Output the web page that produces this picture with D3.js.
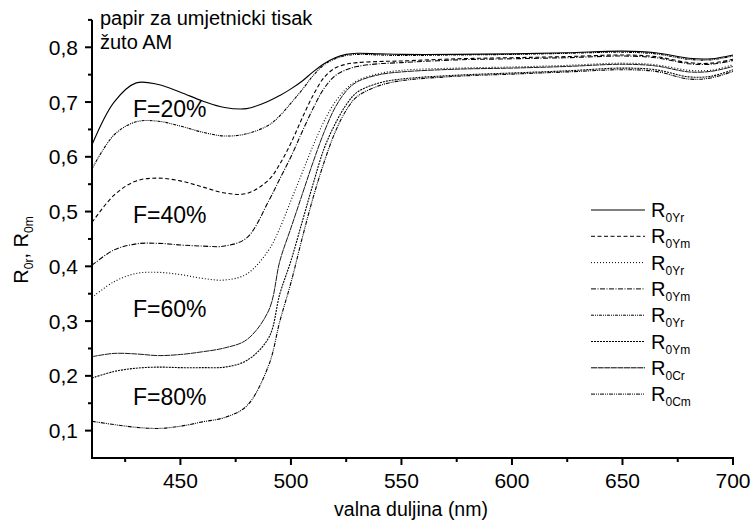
<!DOCTYPE html>
<html><head><meta charset="utf-8">
<script src="https://cdn.jsdelivr.net/npm/d3@7/dist/d3.min.js"></script>
<style>body{margin:0;background:#fff}svg{display:block}text{font-family:Arial,"Liberation Sans",sans-serif;fill:#000}</style>
</head><body><svg id="c" width="751" height="529" xmlns="http://www.w3.org/2000/svg"></svg>
<script>
const wavelengths = [410,420,430,440,450,460,470,480,490,495,500,505,510,515,520,525,530,540,550,575,600,625,650,665,680,690,700];
// F=20%
const sA = [.622,.700,.735,.732,.718,.702,.690,.688,.702,.712,.724,.738,.755,.770,.781,.787,.789,.788,.787,.787,.788,.790,.793,.790,.780,.779,.786];
const sB = [.578,.640,.664,.665,.656,.645,.638,.642,.658,.675,.698,.722,.748,.768,.779,.785,.787,.786,.785,.786,.787,.789,.791,.788,.778,.777,.784];
// F=40%
const sC = [.480,.530,.556,.561,.556,.545,.534,.533,.558,.587,.625,.670,.712,.745,.762,.769,.772,.774,.775,.779,.781,.783,.786,.783,.772,.771,.778];
const sD = [.402,.430,.441,.442,.439,.437,.437,.452,.520,.560,.600,.645,.688,.725,.748,.759,.765,.770,.772,.777,.779,.781,.784,.781,.770,.769,.776];
// F=60%
const sE = [.343,.372,.387,.389,.385,.378,.375,.386,.430,.470,.520,.570,.620,.665,.700,.724,.739,.752,.758,.762,.764,.767,.771,.768,.758,.758,.768];
const sF = [.235,.241,.240,.237,.239,.244,.251,.266,.320,.410,.470,.530,.590,.645,.690,.720,.737,.750,.755,.760,.762,.765,.769,.766,.755,.756,.765];
// F=80%
const sG = [.196,.208,.214,.216,.215,.215,.216,.228,.270,.350,.410,.480,.550,.615,.660,.695,.718,.735,.742,.749,.753,.757,.762,.759,.746,.747,.759];
const sH = [.117,.111,.106,.104,.108,.116,.124,.145,.220,.300,.370,.450,.525,.590,.645,.685,.710,.730,.739,.747,.751,.755,.759,.756,.742,.744,.756];

const seriesValues = [sA, sC, sE, sD, sB, sG, sF, sH];
const legendBase = ["R","R","R","R","R","R","R","R"];
const legendSub = ["0Yr","0Ym","0Yr","0Ym","0Yr","0Ym","0Cr","0Cm"];
const dashes = ["none","4,2.5","1,2","5,1.5,1,1.5","3,1,1,1,1,1","2,1","6,0.6","4,1,1,1,1,1"];

const xTicks = [450,500,550,600,650,700];
const xTickLabels = ["450","500","550","600","650","700"];
const xMinorTicks = [425,475,525,575,625,675];
const yTicks = [0.1,0.2,0.3,0.4,0.5,0.6,0.7,0.8];
const yTickLabels = ["0,1","0,2","0,3","0,4","0,5","0,6","0,7","0,8"];
const yMinorTicks = [0.15,0.25,0.35,0.45,0.55,0.65,0.75,0.85];
const fLabels = ["F=20%","F=40%","F=60%","F=80%"];
const fLabelY = [0.673,0.479,0.307,0.146];
const titleLines = ["papir za umjetnicki tisak","žuto AM"];
const xTitle = "valna duljina (nm)";

const svg = d3.select("#c");
const x = d3.scaleLinear().domain([410,700]).range([92,733]);
const y = d3.scaleLinear().domain([0.05,0.85]).range([458,19.9]);

// lines
const line = d3.line().x((d,i)=>x(wavelengths[i])).y(d=>y(d)).curve(d3.curveCatmullRom.alpha(0.5));
svg.append("g").selectAll("path").data(seriesValues).join("path")
  .attr("d", d=>line(d)).attr("fill","none").attr("stroke","#000")
  .attr("stroke-width",(d,i)=> i===6?0.9:1.1)
  .attr("stroke-dasharray",(d,i)=>dashes[i]);

// axes: filled rectangles placed with the scales
const X0 = x(410), Y0 = y(0.05);
const ax = svg.append("g").attr("fill","#000");
ax.append("rect").attr("x",X0-1).attr("y",y(0.85)).attr("width",2).attr("height",Y0-y(0.85)+1);
ax.append("rect").attr("x",X0-1).attr("y",Y0-1).attr("width",x(700)-X0+2).attr("height",2);
ax.selectAll(".xmaj").data(xTicks).join("rect").attr("x",d=>x(d)-1).attr("y",Y0).attr("width",2).attr("height",7);
ax.selectAll(".xmin").data(xMinorTicks).join("rect").attr("x",d=>x(d)-1).attr("y",Y0).attr("width",2).attr("height",4);
ax.selectAll(".ymaj").data(yTicks).join("rect").attr("x",X0-7).attr("y",d=>y(d)-1).attr("width",7).attr("height",2);
ax.selectAll(".ymin").data(yMinorTicks).join("rect").attr("x",X0-4).attr("y",d=>y(d)-1).attr("width",4).attr("height",2);

svg.append("g").selectAll("text").data(xTickLabels).join("text")
  .attr("x",(d,i)=>x(xTicks[i])).attr("y",Y0+30).attr("text-anchor","middle").attr("font-size",21).text(d=>d);
svg.append("g").selectAll("text").data(yTickLabels).join("text")
  .attr("x",X0-14).attr("y",(d,i)=>y(yTicks[i])+7.5).attr("text-anchor","end").attr("font-size",21).text(d=>d);

// title
svg.append("g").selectAll("text").data(titleLines).join("text")
  .attr("x",100).attr("y",(d,i)=>25+i*23.5).attr("font-size",20).text(d=>d);

// F labels
svg.append("g").selectAll("text").data(fLabels).join("text")
  .attr("x",133).attr("y",(d,i)=>y(fLabelY[i])).attr("font-size",23).text(d=>d);

// axis titles
svg.append("text").attr("x",411).attr("y",516).attr("text-anchor","middle").attr("font-size",19.5).text(xTitle);
const yl = svg.append("text").attr("transform","translate(28,250) rotate(-90)").attr("text-anchor","middle").attr("font-size",20);
yl.append("tspan").text("R");
yl.append("tspan").attr("font-size",12).attr("dy",5).text("0r");
yl.append("tspan").attr("dy",-5).text(", R");
yl.append("tspan").attr("font-size",12).attr("dy",5).text("0m");

// legend
const lg = svg.append("g").selectAll("g").data(legendSub).join("g")
  .attr("transform",(d,i)=>`translate(591,${210+i*26.3})`);
lg.append("line").attr("x1",0).attr("x2",54).attr("y1",0).attr("y2",0)
  .attr("stroke","#000").attr("stroke-width",1).attr("stroke-dasharray",(d,i)=>dashes[i]);
const lt = lg.append("text").attr("x",60).attr("y",7).attr("font-size",20);
lt.append("tspan").text((d,i)=>legendBase[i]);
lt.append("tspan").attr("font-size",12).attr("dy",5).text(d=>d);
</script></body></html>
